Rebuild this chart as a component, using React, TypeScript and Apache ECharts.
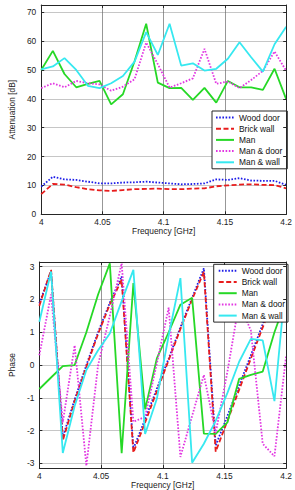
import React, { useEffect, useRef } from "react";
import * as echarts from "echarts";

// Frequency samples [GHz]
const freqs = [
  4.0, 4.0095, 4.019, 4.0286, 4.0381, 4.0476, 4.0571, 4.0667, 4.0762, 4.0857, 4.0952,
  4.1048, 4.1143, 4.1238, 4.1333, 4.1429, 4.1524, 4.1619, 4.1714, 4.181, 4.1905, 4.2,
];

const seriesNames = ["Wood door", "Brick wall", "Man", "Man & door", "Man & wall"];

// Attenuation [dB]
const woodDoorAtt = [9.6, 13.0, 12.1, 11.9, 11.3, 10.7, 10.7, 11.0, 11.1, 11.3, 11.0, 10.7, 10.4, 10.5, 10.7, 12.1, 11.9, 12.5, 11.7, 11.6, 11.6, 10.2];
const brickWallAtt = [7.0, 10.5, 10.3, 9.4, 8.7, 8.3, 8.1, 8.4, 8.7, 8.8, 8.9, 8.7, 8.7, 8.9, 9.0, 9.7, 10.0, 10.3, 10.4, 10.2, 10.1, 9.0];
const manAtt = [50.0, 56.6, 48.6, 44.0, 45.2, 46.2, 38.1, 41.6, 53.0, 66.0, 45.6, 43.7, 43.8, 39.6, 43.8, 38.7, 46.2, 44.0, 44.0, 43.1, 50.4, 39.9];
const manDoorAtt = [43.7, 45.4, 44.0, 46.2, 45.4, 45.0, 42.8, 44.2, 46.8, 59.5, 52.0, 43.9, 45.4, 47.1, 57.3, 45.2, 46.0, 43.7, 46.5, 49.7, 56.4, 49.7];
const manWallAtt = [50.2, 51.2, 54.1, 50.0, 44.5, 43.7, 45.4, 47.9, 52.9, 63.1, 55.2, 66.0, 51.5, 52.3, 49.8, 50.4, 53.9, 59.6, 54.4, 49.4, 58.9, 65.0];

// Phase [rad]
const woodDoorPh = [1.88, 2.85, -2.2, -1.05, 0.0, 1.0, 1.9, 2.7, -2.55, -1.65, -0.72, 0.2, 1.15, 2.05, 2.95, -2.45, -1.55, -0.62, 0.3, 1.25, 2.15, 2.95];
const brickWallPh = [1.81, 2.9, -2.3, -1.1, -0.05, 0.95, 1.85, 2.6, -2.67, -1.75, -0.8, 0.15, 1.1, 2.0, 2.84, -2.64, -1.7, -0.75, 0.2, 1.15, 2.05, 2.8];
const manPh = [-0.73, -0.38, -0.03, 0.0, 1.0, 2.15, 3.1, -2.69, 2.5, -1.35, 0.2, 1.0, 1.84, 2.05, -2.09, -2.1, -1.75, -0.42, -0.3, -0.2, 1.0, 2.0];
const manDoorPh = [0.3, 2.15, -1.75, 0.6, -3.07, 0.0, 1.5, 3.1, -1.73, -1.58, 0.05, 1.75, -2.8, -1.55, -0.3, -2.07, -0.2, 1.9, 1.05, -2.4, -2.78, 0.3];
const manWallPh = [1.32, 2.85, -2.68, -1.25, -0.15, 0.45, 0.96, 1.95, 2.9, -2.1, -1.03, 0.9, 2.65, -2.98, -2.4, -1.7, -0.85, 0.1, 0.8, 0.75, -1.1, 2.7];

const attSeries = [woodDoorAtt, brickWallAtt, manAtt, manDoorAtt, manWallAtt];
const phSeries = [woodDoorPh, brickWallPh, manPh, manDoorPh, manWallPh];

const colors = ["#1c1ce8", "#e81c1c", "#26d826", "#e236e2", "#36e8f0"];
const lineTypes: any[] = [[1.6, 1.6], [5, 2.5], "solid", [1.6, 1.6], "solid"];

const FONT = "'Liberation Sans', Arial, sans-serif";
const FS = 8.4;
const AXIS_COLOR = "#262626";

function fmtFreq(v: number) {
  return String(parseFloat(v.toFixed(2)));
}

function xAxes(gridIndex: number) {
  const common = {
    gridIndex,
    type: "value",
    min: 4,
    max: 4.2,
    interval: 0.05,
  };
  return [
    {
      ...common,
      position: "bottom",
      axisLine: { show: true, onZero: false, lineStyle: { color: AXIS_COLOR, width: 1 } },
      axisTick: { show: true, inside: true, length: 3, lineStyle: { color: AXIS_COLOR } },
      axisLabel: { formatter: fmtFreq, fontSize: FS, fontFamily: FONT, color: "#222", margin: 4 },
      splitLine: { show: true, lineStyle: { color: "#6a6a6a", width: 0.7 } },
      name: "Frequency [GHz]",
      nameLocation: "middle",
      nameGap: 12,
      nameTextStyle: { fontSize: FS, fontFamily: FONT, color: "#222" },
    },
    {
      ...common,
      position: "top",
      z: 10,
      axisLine: { show: true, onZero: false, lineStyle: { color: AXIS_COLOR, width: 1 } },
      axisTick: { show: true, inside: true, length: 3, lineStyle: { color: AXIS_COLOR } },
      axisLabel: { show: false },
      splitLine: { show: false },
    },
  ];
}

function yAxes(gridIndex: number, range: any, name: string, nameGap: number) {
  return [
    {
      gridIndex,
      type: "value",
      ...range,
      position: "left",
      axisLine: { show: true, onZero: false, lineStyle: { color: AXIS_COLOR, width: 1 } },
      axisTick: { show: true, inside: true, length: 3, lineStyle: { color: AXIS_COLOR } },
      axisLabel: {
        fontSize: FS,
        fontFamily: FONT,
        color: "#222",
        margin: 5,
        showMinLabel: range.min === 0,
        showMaxLabel: false,
      },
      splitLine: { show: true, showMinLine: false, showMaxLine: false, lineStyle: { color: "#c6c6c6", width: 1 } },
      name,
      nameLocation: "middle",
      nameGap,
      nameRotate: 90,
      nameTextStyle: { fontSize: FS, fontFamily: FONT, color: "#222" },
    },
    {
      gridIndex,
      type: "value",
      ...range,
      position: "right",
      z: 10,
      axisLine: { show: true, onZero: false, lineStyle: { color: AXIS_COLOR, width: 1 } },
      axisTick: { show: true, inside: true, length: 3, lineStyle: { color: AXIS_COLOR } },
      axisLabel: { show: false },
      splitLine: { show: false },
    },
  ];
}

function makeSeries(values: number[][], axisIndex: number) {
  return values.map((vals, i) => ({
    type: "line",
    name: seriesNames[i],
    xAxisIndex: axisIndex,
    yAxisIndex: axisIndex,
    data: freqs.map((f, k) => [f, vals[k]]),
    symbol: "none",
    showSymbol: false,
    lineStyle: { color: colors[i], width: 1.8, type: lineTypes[i] },
    itemStyle: { color: colors[i] },
    z: 2 + i * 0.1,
    silent: true,
  }));
}

function legendOpt(top: number, right: number, padding: number[]) {
  return {
    data: seriesNames,
    orient: "vertical",
    top,
    right,
    padding,
    itemWidth: 18,
    itemHeight: 8,
    itemGap: 2.2,
    backgroundColor: "#ffffff",
    borderColor: AXIS_COLOR,
    borderWidth: 1,
    borderRadius: 0,
    selectedMode: false,
    itemStyle: { opacity: 0 },
    textStyle: { fontSize: FS, fontFamily: FONT, color: "#111", lineHeight: 9 },
  };
}

export default function App() {
  const ref = useRef<HTMLDivElement>(null);

  useEffect(() => {
    if (!ref.current) return;
    const chart = echarts.init(ref.current, undefined, { renderer: "svg" });
    const option: any = {
      animation: false,
      backgroundColor: "#ffffff",
      textStyle: { fontFamily: FONT },
      grid: [
        { left: 23.3, right: 7, top: 5, height: 209.3, show: false },
        { left: 23.3, right: 7, top: 262, height: 210, show: false },
      ],
      xAxis: [...xAxes(0), ...xAxes(1)],
      yAxis: [
        ...yAxes(0, { min: 0, max: 72.5, interval: 10 }, "Attenuation [dB]", 16.5),
        ...yAxes(1, { min: -Math.PI, max: Math.PI, splitNumber: 6 }, "Phase", 16),
      ],
      legend: [legendOpt(111, 7.7, [2, 5, 2, 3]), legendOpt(264.3, 7, [2, 3, 2, 4])],
      series: [...makeSeries(attSeries, 0), ...makeSeries(phSeries, 2)],
    };
    chart.setOption(option);
    return () => chart.dispose();
  }, []);

  return (
    <div
      ref={ref}
      style={{ position: "absolute", left: 0, top: 0, width: 295, height: 490, background: "#fff" }}
    />
  );
}
